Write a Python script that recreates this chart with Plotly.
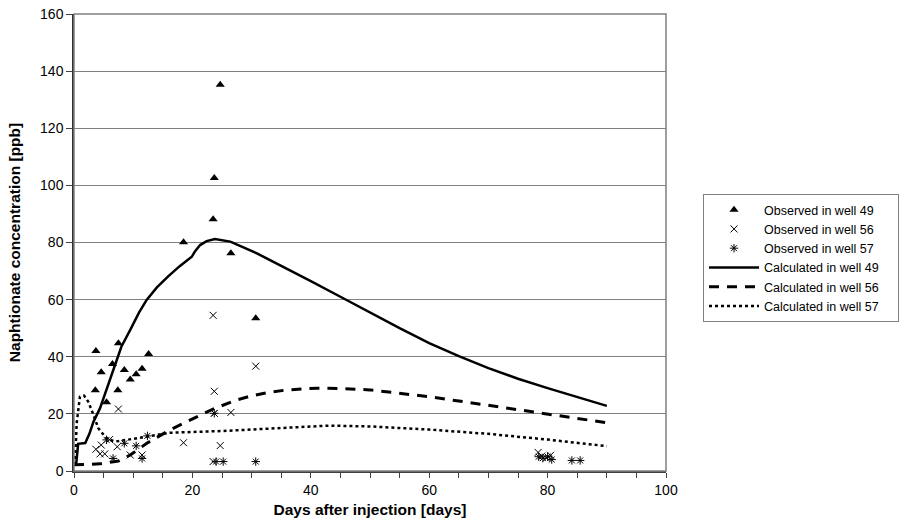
import plotly.graph_objects as go

# Observed data
obs49_days = [3.7, 4.6, 3.6, 5.5, 6.5, 7.5, 7.4, 8.5, 9.5, 10.5, 11.5, 12.6,
              18.5, 23.5, 23.7, 24.7, 26.5, 30.7]
obs49_vals = [42.0, 34.6, 28.3, 24.1, 37.5, 44.7, 28.3, 35.4, 32.0, 33.9, 35.8, 41.0,
              80.1, 88.1, 102.6, 135.2, 76.2, 53.5]

obs56_days = [3.7, 4.6, 4.4, 5.2, 6.0, 7.3, 7.5, 9.5, 11.5, 18.5, 23.5, 23.7, 23.7,
              24.7, 26.5, 30.7, 23.5, 78.4, 79.0, 79.8, 80.5]
obs56_vals = [7.6, 9.1, 6.0, 6.0, 11.0, 8.5, 21.7, 5.6, 5.6, 9.9, 54.5, 27.9, 20.2,
              8.9, 20.5, 36.7, 3.3, 6.5, 5.2, 4.6, 5.5]

obs57_days = [5.5, 6.6, 8.5, 10.5, 11.5, 12.4, 23.7, 24.0, 25.2, 30.7,
              78.5, 79.2, 80.0, 80.7, 84.1, 85.5]
obs57_vals = [10.9, 4.4, 9.7, 8.8, 4.4, 12.3, 20.2, 3.3, 3.3, 3.3,
              5.0, 4.5, 5.0, 4.0, 3.7, 3.7]

# Calculated curves
calc49_days = [0, 0.4, 0.7, 1.9, 2.6, 3.3, 4.4, 5.5, 6.6, 8.0, 9.5, 11, 12.3, 14, 16,
               17.9, 19.9, 20.4, 21.3, 22.4, 23.8, 26.4, 30.9, 36.5, 40, 45, 50, 55,
               60, 65, 70, 75, 80, 85, 90]
calc49_vals = [2.5, 3.0, 9.5, 9.8, 13.0, 17.3, 22.0, 28.4, 35.4, 43.5, 49.4, 55.5, 60.0,
               64.3, 68.3, 71.8, 75.0, 76.8, 79.1, 80.5, 81.2, 80.3, 76.2, 70.4, 66.5,
               61.0, 55.5, 50.0, 44.8, 40.2, 36.0, 32.3, 29.0, 25.8, 22.8]

calc56_days = [0, 4.4, 6, 7.5, 9.5, 12.3, 16.2, 21.3, 23.5, 27.5, 30, 33.1, 36, 41,
               45, 50, 55, 60, 65, 70, 75, 80, 85, 90]
calc56_vals = [2.2, 2.5, 3.0, 3.5, 5.6, 9.7, 14.4, 19.6, 21.7, 24.9, 26.3, 27.6, 28.4,
               29.0, 28.9, 28.4, 27.3, 26.0, 24.5, 23.0, 21.4, 19.8, 18.3, 16.9]

calc57_days = [0, 0.2, 0.45, 1.0, 1.7, 2.4, 3.3, 4.1, 5.5, 6.9, 8.9, 12.3, 16.2, 25,
               35, 43.2, 50, 60, 70, 80, 90]
calc57_vals = [2.2, 3.0, 16.7, 26.0, 26.4, 24.3, 19.6, 15.0, 11.4, 10.3, 10.9, 12.0,
               13.4, 14.0, 15.0, 15.9, 15.6, 14.5, 13.0, 11.0, 8.7]

FONT = "Liberation Sans, Arial, sans-serif"
PAD = "\u00a0" * 4

fig = go.Figure()
fig.add_trace(go.Scatter(x=obs49_days, y=obs49_vals, mode="markers",
                         name="Observed in well 49" + PAD,
                         marker=dict(symbol="triangle-up", size=8, color="black")))
fig.add_trace(go.Scatter(x=obs56_days, y=obs56_vals, mode="markers",
                         name="Observed in well 56" + PAD,
                         marker=dict(symbol="x-thin-open", size=7, color="black",
                                     line=dict(width=1, color="black"))))
fig.add_trace(go.Scatter(x=obs57_days, y=obs57_vals, mode="markers",
                         name="Observed in well 57" + PAD,
                         marker=dict(symbol="asterisk-open", size=7, color="black",
                                     line=dict(width=1, color="black"))))
fig.add_trace(go.Scatter(x=calc49_days, y=calc49_vals, mode="lines",
                         name="Calculated in well 49" + PAD,
                         line=dict(color="black", width=2.5)))
fig.add_trace(go.Scatter(x=calc56_days, y=calc56_vals, mode="lines",
                         name="Calculated in well 56" + PAD,
                         line=dict(color="black", width=3, dash="10px,8px")))
fig.add_trace(go.Scatter(x=calc57_days, y=calc57_vals, mode="lines",
                         name="Calculated in well 57" + PAD,
                         line=dict(color="black", width=2.5, dash="dot")))

fig.update_layout(
    width=902, height=520,
    margin=dict(l=74, r=236, t=14, b=49, autoexpand=False),
    paper_bgcolor="white", plot_bgcolor="white",
    font=dict(family=FONT, size=14, color="black"),
    showlegend=True,
    legend=dict(x=1.0625, y=0.606, xanchor="left", yanchor="top",
                bordercolor="#808080", borderwidth=1, bgcolor="white",
                font=dict(family=FONT, size=12.5, color="black"),
                itemwidth=50, tracegroupgap=0),
    xaxis=dict(range=[0, 100], tick0=0, dtick=20, ticks="outside", ticklen=5,
               tickcolor="#404040", showgrid=False, zeroline=False, automargin=False,
               showline=True, linecolor="#404040", linewidth=2,
               minor=dict(dtick=5, ticks="outside", ticklen=5, tickcolor="#404040", showgrid=False),
               title=dict(text="<b>Days after injection [days]</b>", font=dict(size=15.5), standoff=7),
               tickfont=dict(size=14)),
    yaxis=dict(range=[0, 160], tick0=0, dtick=20, ticks="outside", ticklen=6,
               tickcolor="#404040", showgrid=True, gridcolor="#808080", gridwidth=1,
               zeroline=False, showline=True, linecolor="#303030", linewidth=1.5, automargin=False,
               title=dict(text="<b>Naphtionate concentration [ppb]</b>", font=dict(size=15.5), standoff=16),
               tickfont=dict(size=14)),
)

fig.add_shape(type="rect", xref="paper", yref="paper", x0=0, x1=1, y0=0, y1=1,
              line=dict(color="#808080", width=1.5), layer="above")

# remove the default 8px page margin so the figure fills the window exactly
fig.write_html("out.html",
               config={"displayModeBar": False},
               post_script="document.body.style.margin='0';document.body.style.overflow='hidden';")
